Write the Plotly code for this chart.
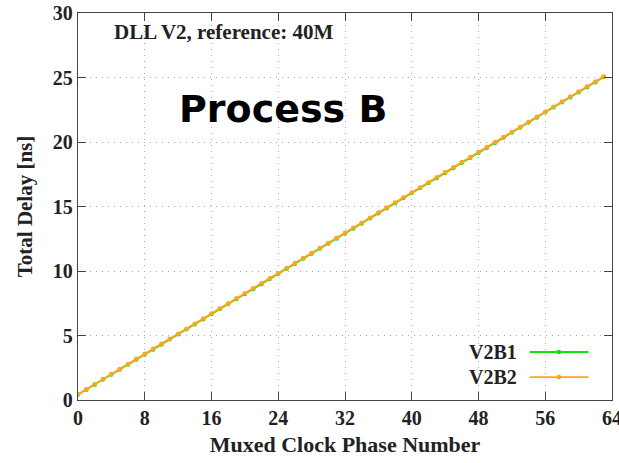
import plotly.graph_objects as go

phase = list(range(64))
v2b1 = [0.42, 0.80, 1.19, 1.58, 1.97, 2.36, 2.76, 3.14, 3.53, 3.92, 4.31, 4.70, 5.09, 5.48,
        5.87, 6.26, 6.66, 7.05, 7.44, 7.83, 8.22, 8.61, 9.00, 9.39, 9.78, 10.17, 10.57, 10.96,
        11.35, 11.74, 12.13, 12.52, 12.91, 13.30, 13.69, 14.08, 14.48, 14.87, 15.26, 15.65,
        16.04, 16.43, 16.82, 17.21, 17.60, 17.99, 18.39, 18.78, 19.17, 19.56, 19.95, 20.34,
        20.73, 21.12, 21.51, 21.90, 22.30, 22.69, 23.08, 23.47, 23.86, 24.25, 24.64, 25.04]
v2b2 = [0.45, 0.84, 1.23, 1.62, 2.01, 2.40, 2.80, 3.19, 3.58, 3.97, 4.36, 4.75, 5.14, 5.53,
        5.92, 6.31, 6.71, 7.10, 7.49, 7.88, 8.27, 8.66, 9.05, 9.44, 9.83, 10.22, 10.62, 11.01,
        11.40, 11.79, 12.18, 12.57, 12.96, 13.35, 13.74, 14.13, 14.53, 14.92, 15.31, 15.70,
        16.09, 16.48, 16.87, 17.26, 17.65, 18.04, 18.44, 18.83, 19.22, 19.61, 20.00, 20.39,
        20.78, 21.17, 21.56, 21.95, 22.35, 22.74, 23.13, 23.52, 23.91, 24.30, 24.69, 25.08]
series_names = ["V2B1", "V2B2"]
colors = ["#11e011", "#ffa620"]
x_ticks = [0, 8, 16, 24, 32, 40, 48, 56, 64]
y_ticks = [0, 5, 10, 15, 20, 25, 30]

SERIF = "Liberation Serif"
TXT = "#222222"

fig = go.Figure()
for name, vals, col in zip(series_names, [v2b1, v2b2], colors):
    fig.add_trace(go.Scatter(x=phase, y=vals, name=name, mode="lines+markers",
                             line=dict(color=col, width=1.8),
                             marker=dict(color=col, size=4.5), showlegend=False))

axis_common = dict(showline=True, linecolor="#444", linewidth=1.3, mirror="allticks",
                   ticks="inside", ticklen=8, tickcolor="#444", tickwidth=1.3,
                   showgrid=True, gridcolor="#aaaaaa", griddash="1px,5px", gridwidth=1,
                   zeroline=False, ticklabeloverflow="allow", automargin=False,
                   tickfont=dict(family=SERIF, size=20, color=TXT, weight="bold"))

fig.update_xaxes(range=[0, 64], tickvals=x_ticks, **axis_common,
                 title=dict(text="Muxed Clock Phase Number", standoff=8,
                            font=dict(family=SERIF, size=22, color=TXT, weight="bold")))
fig.update_yaxes(range=[0, 30], tickvals=y_ticks, **axis_common,
                 title=dict(text="Total Delay [ns]", standoff=14,
                            font=dict(family=SERIF, size=21, color=TXT, weight="bold")))

anns = [
    dict(text="DLL V2, reference: 40M", xref="paper", yref="paper", x=0.064, y=0.951,
         xanchor="left", yanchor="middle", showarrow=False,
         font=dict(family=SERIF, size=21, color=TXT, weight="bold")),
    dict(text="Process B", xref="paper", yref="paper", x=0.383, y=0.752,
         xanchor="center", yanchor="middle", showarrow=False,
         font=dict(family="DejaVu Sans", size=38, color="black", weight="bold")),
]
shapes = []
legend_y = [0.124, 0.059]
for name, col, ly in zip(series_names, colors, legend_y):
    anns.append(dict(text=name, xref="paper", yref="paper", x=0.825, y=ly,
                     xanchor="right", yanchor="middle", showarrow=False,
                     font=dict(family=SERIF, size=20, color=TXT, weight="bold")))
    shapes.append(dict(type="line", xref="paper", yref="paper", x0=0.846, x1=0.956,
                       y0=ly, y1=ly, line=dict(color=col, width=1.8)))
    shapes.append(dict(type="circle", xref="paper", yref="paper",
                       x0=0.9005 - 0.0045, x1=0.9005 + 0.0045, y0=ly - 0.006, y1=ly + 0.006,
                       fillcolor=col, line=dict(color=col, width=0)))

fig.update_layout(width=619, height=463, margin=dict(l=78, r=7, t=13, b=63),
                  plot_bgcolor="white", paper_bgcolor="white",
                  annotations=anns, shapes=shapes)

fig.write_html("out.html")
